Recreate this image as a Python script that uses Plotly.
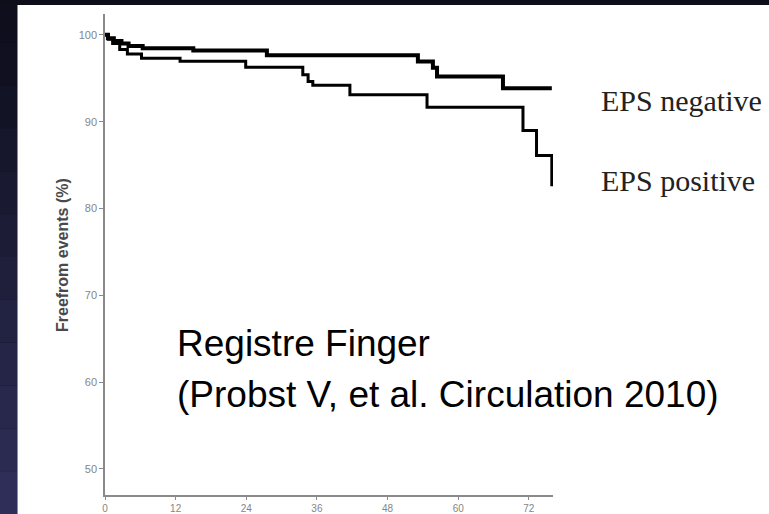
import plotly.graph_objects as go

# ---- data ----
x_tick_vals = [0, 12, 24, 36, 48, 60, 72]
y_tick_vals = [50, 60, 70, 80, 90, 100]

neg_months = [0, 0.5, 1.5, 2.8, 4.0, 6.4, 15.0, 27.5, 53.15, 55.7, 56.4, 67.6, 75.9]
neg_surv = [100, 99.6, 99.3, 99.0, 98.7, 98.45, 98.2, 97.66, 96.92, 96.2, 95.2, 93.86, 93.86]

pos_months = [0, 0.6, 1.3, 2.5, 3.8, 6.2, 12.75, 23.9, 33.6, 34.5, 35.3, 41.6, 54.7, 71.0, 73.3, 75.9]
pos_surv = [100, 99.5, 99.0, 98.3, 97.8, 97.3, 96.97, 96.26, 95.39, 94.62, 94.18, 93.09, 91.65, 88.97, 86.1, 82.55]

series_labels = ["EPS negative", "EPS positive"]
y_title = "Freefrom events (%)"
note_lines = ["Registre Finger", "(Probst V, et al. Circulation 2010)"]

# ---- layout geometry (pixels) ----
W, H = 769, 514
L, R, T, B = 105, 553, 14, 495


def px(xp):
    return (xp - L) / (R - L)


def py(yp):
    return (B - yp) / (B - T)


fig = go.Figure()
fig.add_trace(go.Scatter(x=neg_months, y=neg_surv, mode="lines", line=dict(shape="hv", color="black", width=4),
                         name=series_labels[0], showlegend=False, hoverinfo="skip"))
fig.add_trace(go.Scatter(x=pos_months, y=pos_surv, mode="lines", line=dict(shape="hv", color="black", width=3),
                         name=series_labels[1], showlegend=False, hoverinfo="skip"))

shapes = []
# slide background: dark strips with vertical gradient on the left
n_bands = 12
c0 = (14, 14, 28)
c1 = (46, 46, 88)
for i in range(n_bands):
    f = i / (n_bands - 1)
    col = "rgb(%d,%d,%d)" % tuple(int(a + (b - a) * f) for a, b in zip(c0, c1))
    y0p = i * H / n_bands
    y1p = (i + 1) * H / n_bands
    shapes.append(dict(type="rect", xref="paper", yref="paper", x0=px(-2), x1=px(17.5),
                       y0=py(y1p), y1=py(y0p), fillcolor=col, line=dict(width=0), layer="below"))
shapes.append(dict(type="rect", xref="paper", yref="paper", x0=px(-2), x1=px(W + 2),
                   y0=py(5), y1=py(-2), fillcolor="rgb(14,14,26)", line=dict(width=0), layer="below"))
shapes.append(dict(type="rect", xref="paper", yref="paper", x0=px(17.5), x1=px(W + 4),
                   y0=py(H + 4), y1=py(5), fillcolor="white", line=dict(width=0), layer="below"))

serif = "Liberation Serif, Times New Roman, serif"
sans = "Liberation Sans, Arial, sans-serif"
annotations = [
    dict(text=series_labels[0], xref="paper", yref="paper", x=px(599), y=py(101), xanchor="left", yanchor="middle",
         showarrow=False, font=dict(family=serif, size=30, color="#222")),
    dict(text=series_labels[1], xref="paper", yref="paper", x=px(599), y=py(181), xanchor="left", yanchor="middle",
         showarrow=False, font=dict(family=serif, size=30, color="#222")),
    dict(text=note_lines[0], xref="paper", yref="paper", x=px(175), y=py(343), xanchor="left", yanchor="middle",
         showarrow=False, font=dict(family=sans, size=37, color="black")),
    dict(text=note_lines[1], xref="paper", yref="paper", x=px(175), y=py(394), xanchor="left", yanchor="middle",
         showarrow=False, font=dict(family=sans, size=37, color="black")),
    dict(text="<b>" + y_title + "</b>", xref="paper", yref="paper", x=px(62), y=py(255), xanchor="center",
         yanchor="middle", textangle=-90, showarrow=False,
         font=dict(family=sans, size=16, color="#4a4a4a")),
]

y_tick_font = dict(family=sans, size=11, color="#858585")
x_tick_font = dict(family="Liberation Sans Narrow, Liberation Sans, Arial, sans-serif", size=10, color="#858585")

fig.update_layout(
    width=W, height=H,
    margin=dict(l=L, r=W - R, t=T, b=H - B, pad=0, autoexpand=False),
    paper_bgcolor="rgb(14,14,26)",
    plot_bgcolor="white",
    shapes=shapes,
    annotations=annotations,
    xaxis=dict(range=[0, 76.1], tickvals=x_tick_vals, ticktext=[str(v) for v in x_tick_vals],
               showgrid=False, zeroline=False, showline=True, linecolor="#8a8a8a", linewidth=1.5,
               ticks="outside", ticklen=3, tickcolor="#8a8a8a", tickwidth=1, tickfont=x_tick_font,
               automargin=False),
    yaxis=dict(range=[47.0, 102.4], tickvals=y_tick_vals, ticktext=[str(v) for v in y_tick_vals],
               showgrid=False, zeroline=False, showline=True, linecolor="#8a8a8a", linewidth=1.5,
               ticks="outside", ticklen=4, tickcolor="#8a8a8a", tickwidth=1, tickfont=y_tick_font,
               automargin=False),
)

fig.write_html(
    "out.html",
    config={"displayModeBar": False},
    post_script="document.documentElement.style.margin='0';document.body.style.margin='0';"
                "document.body.style.padding='0';document.body.style.overflow='hidden';"
                "document.body.style.background='white';",
)
